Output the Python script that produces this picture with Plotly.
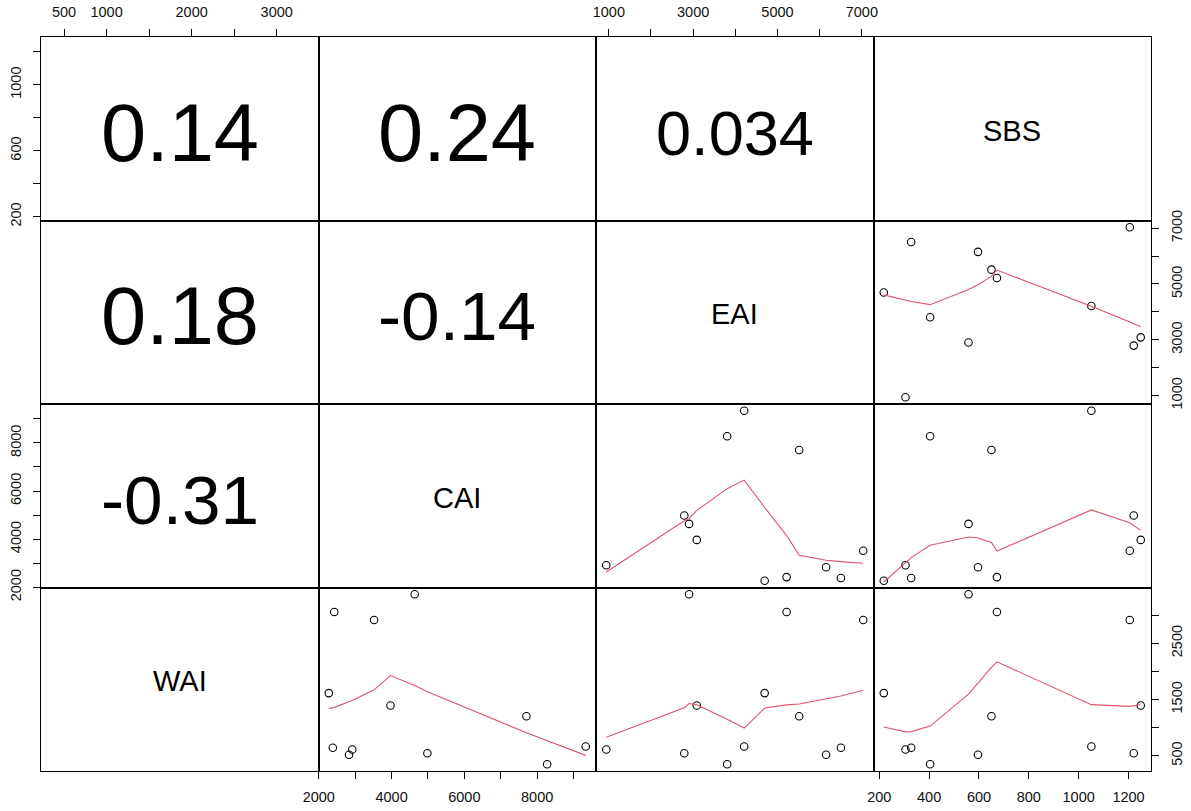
import numpy as np
import plotly.graph_objects as go

# ---- data -----------------------------------------------------------------
VARIABLES = ["WAI", "CAI", "EAI", "SBS"]          # column order, left to right
WAI = [3370, 3056, 2913, 1614, 1394, 1202, 666, 612, 643, 518, 546, 350]
CAI = [4635, 2425, 3520, 2275, 3970, 7705, 9335, 2920, 2385, 2832, 4985, 8275]
EAI = [2904, 5216, 7033, 4696, 3086, 5515, 4210, 940, 6504, 6152, 2790, 3807]
SBS = [558, 672, 1205, 218, 1249, 650, 1051, 305, 328, 596, 1221, 404]

# correlation coefficients shown in the upper-left triangle: (row var, col var)
COR_PAIRS = [("SBS", "WAI"), ("SBS", "CAI"), ("SBS", "EAI"),
             ("EAI", "WAI"), ("EAI", "CAI"), ("CAI", "WAI")]
COR_VALUES = ["0.14", "0.24", "0.034", "0.18", "-0.14", "-0.31"]

# axis ticks and the labels that are printed (blank = tick without label)
TICKS = {
    "WAI": [500, 1000, 1500, 2000, 2500, 3000],
    "CAI": [2000, 3000, 4000, 5000, 6000, 7000, 8000, 9000],
    "EAI": [1000, 2000, 3000, 4000, 5000, 6000, 7000],
    "SBS": [200, 400, 600, 800, 1000, 1200],
}
TICK_TEXT_H = {
    "WAI": ["500", "1000", "", "2000", "", "3000"],
    "CAI": ["2000", "", "4000", "", "6000", "", "8000", ""],
    "EAI": ["1000", "", "3000", "", "5000", "", "7000"],
    "SBS": ["200", "400", "600", "800", "1000", "1200"],
}
TICK_TEXT_V = {
    "WAI": ["500", "", "1500", "", "2500", ""],
    "CAI": ["2000", "", "4000", "", "6000", "", "8000", ""],
    "EAI": ["1000", "", "3000", "", "5000", "", "7000"],
    "SBS": ["200", "", "600", "", "1000", ""],
}

DATA = {"WAI": WAI, "CAI": CAI, "EAI": EAI, "SBS": SBS}
ROWS = VARIABLES[::-1]      # top row shows SBS, bottom row WAI
COLS = VARIABLES

FONT = "Liberation Sans, Arial, sans-serif"
SMOOTH_COL = "#DF536B"


def lowess(x, y, f=2 / 3, iters=3):
    """Robust locally weighted regression (Cleveland's LOWESS, as in R)."""
    x = np.asarray(x, float)
    y = np.asarray(y, float)
    o = np.argsort(x, kind="mergesort")
    x, y = x[o], y[o]
    n = len(x)
    ns = max(2, min(n, int(f * n + 1e-7)))
    delta = 0.01 * (x[-1] - x[0])
    span = x[-1] - x[0]
    ys = np.zeros(n)
    rw = np.ones(n)

    def lowest(xs, nleft, nright, userw):
        w = np.zeros(n)
        h = max(xs - x[nleft], x[nright] - xs)
        h9, h1 = 0.999 * h, 0.001 * h
        a = 0.0
        j = nleft
        while j < n:
            r = abs(x[j] - xs)
            if r <= h9:
                w[j] = 1.0 if r <= h1 else (1 - (r / h) ** 3) ** 3
                if userw:
                    w[j] *= rw[j]
                a += w[j]
            elif x[j] > xs:
                break
            j += 1
        nrt = j - 1
        if a <= 0:
            return None
        s = slice(nleft, nrt + 1)
        w[s] /= a
        if h > 0:
            a = np.sum(w[s] * x[s])
            b = xs - a
            c = np.sum(w[s] * (x[s] - a) ** 2)
            if np.sqrt(c) > 0.001 * span:
                b /= c
                w[s] = w[s] * (b * (x[s] - a) + 1)
        return float(np.sum(w[s] * y[s]))

    it = 1
    while it <= iters + 1:
        nleft, nright, last, i = 0, ns - 1, -1, 0
        while True:
            if nright < n - 1:
                d1 = x[i] - x[nleft]
                d2 = x[nright + 1] - x[i]
                if d1 > d2:
                    nleft += 1
                    nright += 1
                    continue
            v = lowest(x[i], nleft, nright, it > 1)
            ys[i] = y[i] if v is None else v
            if last < i - 1:
                denom = x[i] - x[last]
                for j in range(last + 1, i):
                    alpha = (x[j] - x[last]) / denom
                    ys[j] = alpha * ys[i] + (1 - alpha) * ys[last]
            last = i
            cut = x[last] + delta
            i = last + 1
            while i < n:
                if x[i] > cut:
                    break
                if x[i] == x[last]:
                    ys[i] = ys[last]
                    last = i
                i += 1
            i = max(last + 1, i - 1)
            if last >= n - 1:
                break
        res = y - ys
        if it > iters:
            break
        sc = np.sum(np.abs(res)) / n
        ar = np.abs(res)
        cmad = 6 * np.median(ar)
        if cmad < 1e-7 * sc:
            break
        c9, c1 = 0.999 * cmad, 0.001 * cmad
        rw = np.where(ar <= c1, 1.0,
                      np.where(ar <= c9, (1 - (ar / cmad) ** 2) ** 2, 0.0))
        it += 1
    return x, ys


def usr_range(vals):
    lo, hi = min(vals), max(vals)
    pad = 0.04 * (hi - lo)
    return [lo - pad, hi + pad]


def text_em(txt):
    # Arial advance widths (em) for the characters used in the coefficients
    widths = {".": 0.278, "-": 0.333}
    return sum(widths.get(ch, 0.556) for ch in txt)


# ---- geometry -------------------------------------------------------------
W, H = 1191, 811
ML, MR, MT, MB = 41, 40, 37, 40

fig = go.Figure()
layout = dict(
    width=W, height=H,
    margin=dict(l=ML, r=MR, t=MT, b=MB, pad=0, autoexpand=False),
    paper_bgcolor="white", plot_bgcolor="white",
    showlegend=False,
    font=dict(family=FONT, color="#000"),
)
annotations = []

cor_lookup = dict(zip(COR_PAIRS, COR_VALUES))

# which panels carry tick marks, and on which side
X_TICK_SIDE = {(0, 0): "top", (0, 2): "top", (3, 1): "bottom", (3, 3): "bottom"}
Y_TICK_SIDE = {(0, 0): "left", (2, 0): "left", (1, 3): "right", (3, 3): "right"}

tick_font = dict(family=FONT, size=14.5, color="#111")

for r, rv in enumerate(ROWS):
    for c, cv in enumerate(COLS):
        k = r * 4 + c + 1
        xa = "xaxis" if k == 1 else f"xaxis{k}"
        ya = "yaxis" if k == 1 else f"yaxis{k}"
        xref = "x" if k == 1 else f"x{k}"
        yref = "y" if k == 1 else f"y{k}"
        xdom = [c / 4, (c + 1) / 4]
        ydom = [1 - (r + 1) / 4, 1 - r / 4]
        xr = usr_range(DATA[cv])
        yr = usr_range(DATA[rv])

        common = dict(showgrid=False, zeroline=False, showline=True,
                      mirror=True, linecolor="#000", linewidth=1,
                      fixedrange=True, automargin=False,
                      showticklabels=False, ticks="")
        xcfg = dict(domain=xdom, range=xr, anchor=yref, **common)
        ycfg = dict(domain=ydom, range=yr, anchor=xref, **common)
        if (r, c) in X_TICK_SIDE:
            xcfg.update(side=X_TICK_SIDE[(r, c)], ticks="outside", ticklen=7,
                        tickwidth=1, tickcolor="#000", showticklabels=True,
                        tickmode="array", tickvals=TICKS[cv],
                        ticktext=TICK_TEXT_H[cv], tickfont=tick_font,
                        tickangle=0, ticklabelstandoff=6)
        if (r, c) in Y_TICK_SIDE:
            ycfg.update(side=Y_TICK_SIDE[(r, c)], ticks="outside", ticklen=7,
                        tickwidth=1, tickcolor="#000", showticklabels=True,
                        tickmode="array", tickvals=TICKS[rv],
                        ticktext=TICK_TEXT_V[rv], tickfont=tick_font,
                        tickangle=-90, ticklabelstandoff=6)
        layout[xa] = xcfg
        layout[ya] = ycfg

        cx = (xr[0] + xr[1]) / 2
        cy = (yr[0] + yr[1]) / 2
        if rv == cv:
            # variable name on the diagonal
            annotations.append(dict(x=cx, y=cy, xref=xref, yref=yref, text=rv,
                                    showarrow=False, yshift=-2,
                                    font=dict(family=FONT, size=29, color="#000")))
        elif (rv, cv) in cor_lookup:
            txt = cor_lookup[(rv, cv)]
            size = 158 / text_em(txt)
            annotations.append(dict(x=cx, y=cy, xref=xref, yref=yref, text=txt,
                                    showarrow=False, yshift=-4,
                                    font=dict(family=FONT, size=size, color="#000")))
        else:
            xs_, ys_ = DATA[cv], DATA[rv]
            fig.add_trace(go.Scatter(
                x=xs_, y=ys_, mode="markers", xaxis=xref, yaxis=yref,
                marker=dict(symbol="circle-open", size=7.5, color="#000",
                            line=dict(width=1.1, color="#000")),
                hoverinfo="skip"))
            lx, ly = lowess(xs_, ys_)
            fig.add_trace(go.Scatter(
                x=lx, y=ly, mode="lines", xaxis=xref, yaxis=yref,
                line=dict(color=SMOOTH_COL, width=1.1),
                hoverinfo="skip"))

layout["annotations"] = annotations
fig.update_layout(**layout)
fig.write_html("out.html")
